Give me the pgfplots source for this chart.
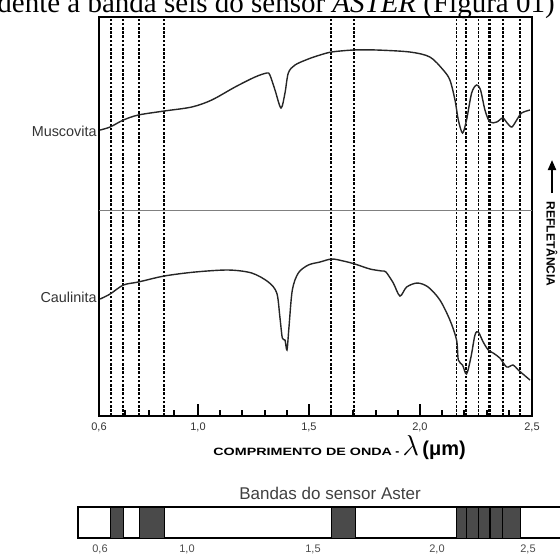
\documentclass[border=0pt]{standalone}
\usepackage{pgfplots}
\pgfplotsset{compat=1.18}
\usepackage{pgfplotstable}
\usepackage{graphicx}
\usepackage{fontspec}
\setmainfont{Liberation Sans}
\newfontfamily\timesfont{Liberation Serif}
\usetikzlibrary{arrows.meta}
\definecolor{bandgray}{HTML}{4A4A4A}

% spectra, reflectance in arbitrary units (0 = bottom of frame)
\pgfplotstableread{
x y
0.559 286
0.604 289
0.664 296
0.731 301
0.848 305
0.972 309
1.062 316
1.167 329
1.257 339
1.310 343
1.324 341
1.347 326
1.374 308
1.392 323
1.407 343
1.437 351
1.497 357
1.550 361
1.602 364
1.700 366
1.805 366
1.955 364
2.045 359
2.105 346
2.135 336
2.158 316
2.173 296
2.192 283
2.210 296
2.233 323
2.255 331
2.273 326
2.293 306
2.315 294
2.346 294
2.373 298
2.393 293
2.414 289
2.436 296
2.458 303
2.496 306
}\muscovita

\pgfplotstableread{
x y
0.559 117
0.604 122
0.664 131
0.731 134
0.848 140
0.987 144
1.137 146
1.242 143
1.317 134
1.355 123
1.369 99
1.380 78
1.392 76
1.401 66
1.410 89
1.425 126
1.452 143
1.497 151
1.550 154
1.602 157
1.655 155
1.707 152
1.775 147
1.828 145
1.847 144
1.880 133
1.910 120
1.940 129
1.988 133
2.037 129
2.090 116
2.135 96
2.165 76
2.173 56
2.192 51
2.210 42
2.230 59
2.248 81
2.263 84
2.285 74
2.308 66
2.330 63
2.360 58
2.391 49
2.420 51
2.443 46
2.496 36
}\caulinita

\begin{document}
\begin{tikzpicture}
\useasboundingbox (0pt,0pt) rectangle (280pt,-277pt);

\node[anchor=base west, inner sep=0pt, font=\timesfont\fontsize{14.5}{16}\selectfont]
  at (-1.5pt,-6pt) {dente à banda seis do sensor \textit{ASTER} (Figura 01)};

\begin{axis}[
  at={(49.5pt,-208pt)}, anchor=south west,
  scale only axis, width=216.5pt, height=199.5pt,
  xmin=0.554, xmax=2.505, ymin=0, ymax=399,
  axis line style={line width=1.2pt},
  ytick=\empty,
  xtick={0.554,1,1.5,2,2.505},
  xticklabels={{0,6},{1,0},{1,5},{2,0},{2,5}},
  minor xtick={0.67,0.78,0.89,1.1,1.2,1.3,1.4,1.6,1.7,1.8,1.9,2.1,2.2,2.3,2.4},
  xtick pos=left, tick align=inside,
  major tick length=6pt, minor tick length=3pt,
  tick style={black,line width=1pt},
  xticklabel style={font=\fontsize{5.5}{6}\selectfont, text=black!80},
]
% ASTER band edges
\addplot[ycomb, black, line width=0.9pt, dash pattern=on 1.3pt off 0.8pt] coordinates {
  (0.6068,399) (0.6635,399) (0.7356,399) (0.8468,399)
  (1.6005,399) (1.7041,399)
  (2.1644,399) (2.2072,399) (2.2635,399) (2.3108,399) (2.3176,399)
  (2.3725,399) (2.4505,399)};
\addplot[black!50, line width=0.5pt] coordinates {(0.554,206) (2.505,206)};
\addplot[black!85, line width=0.7pt, smooth, tension=0.5] table {\muscovita};
\addplot[black!85, line width=0.7pt, smooth, tension=0.5] table {\caulinita};
\end{axis}

\node[anchor=east, inner sep=0pt, font=\fontsize{7.2}{8}\selectfont, text=black!80] at (48.5pt,-65.5pt) {Muscovita};
\node[anchor=east, inner sep=0pt, font=\fontsize{7.2}{8}\selectfont, text=black!80] at (48.5pt,-148.5pt) {Caulinita};

\node[anchor=base west, inner sep=0pt] at (106.5pt,-227.75pt)
  {\scalebox{1.35}[1]{\bfseries\fontsize{5.3}{6}\selectfont COMPRIMENTO DE ONDA}\,{\bfseries\fontsize{6}{6}\selectfont -}\,{\fontsize{15}{15}\selectfont$\lambda$}\,{\bfseries\fontsize{10}{10}\selectfont(μm)}};

\draw[-{Triangle[length=5pt,width=4pt]}, line width=1pt] (276pt,-96.5pt) -- (276pt,-80pt);
\node[rotate=-90, inner sep=0pt, font=\bfseries\fontsize{6}{7}\selectfont] at (276pt,-122pt) {REFLETÂNCIA};

\node[font=\fontsize{8.5}{10}\selectfont, text=black!75] at (165pt,-246.5pt) {Bandas do sensor Aster};

\begin{axis}[
  at={(39pt,-269pt)}, anchor=south west,
  scale only axis, width=242pt, height=15.5pt,
  xmin=0.4595, xmax=2.6396, ymin=0, ymax=1,
  axis line style={line width=0.6pt},
  ytick=\empty,
  xtick={0.5586,0.9505,1.518,2.0766,2.4865},
  xticklabels={{0,6},{1,0},{1,5},{2,0},{2,5}},
  xtick pos=left, major tick length=0pt,
  xticklabel style={font=\fontsize{5.5}{6}\selectfont, text=black!70},
]
\addplot[fill=bandgray, draw=black, line width=0.3pt] coordinates {(0.6036,0) (0.6036,1) (0.6635,1) (0.6635,0)} --cycle;
\addplot[fill=bandgray, draw=black, line width=0.3pt] coordinates {(0.7342,0) (0.7342,1) (0.8468,1) (0.8468,0)} --cycle;
\addplot[fill=bandgray, draw=black, line width=0.3pt] coordinates {(1.6023,0) (1.6023,1) (1.7072,1) (1.7072,0)} --cycle;
\addplot[fill=bandgray, draw=black, line width=0.3pt] coordinates {(2.1622,0) (2.1622,1) (2.2072,1) (2.2072,0)} --cycle;
\addplot[fill=bandgray, draw=black, line width=0.3pt] coordinates {(2.2072,0) (2.2072,1) (2.2644,1) (2.2644,0)} --cycle;
\addplot[fill=bandgray, draw=black, line width=0.3pt] coordinates {(2.2644,0) (2.2644,1) (2.3122,1) (2.3122,0)} --cycle;
\addplot[fill=bandgray, draw=black, line width=0.3pt] coordinates {(2.3176,0) (2.3176,1) (2.3725,1) (2.3725,0)} --cycle;
\addplot[fill=bandgray, draw=black, line width=0.3pt] coordinates {(2.3725,0) (2.3725,1) (2.4505,1) (2.4505,0)} --cycle;
\end{axis}
\end{tikzpicture}
\end{document}
